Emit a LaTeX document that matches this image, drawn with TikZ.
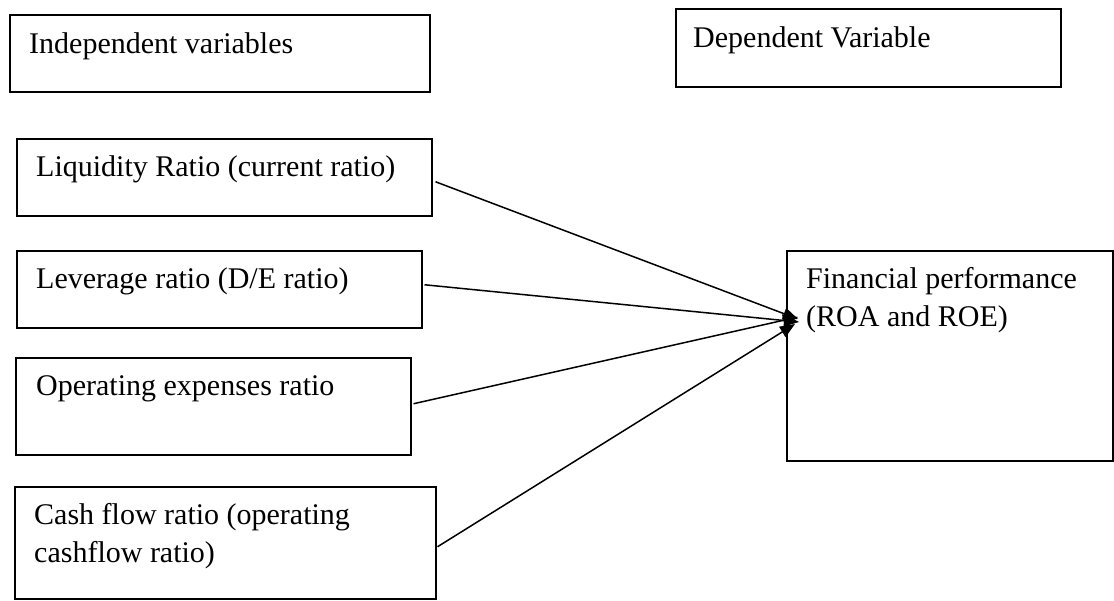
\documentclass[tikz,border=0pt]{standalone}
\usepackage{fontspec}
\setmainfont{Liberation Serif}
\usetikzlibrary{arrows.meta}
\begin{document}
\begin{tikzpicture}[x=1pt,y=-1pt,
  box/.style={draw, line width=1.5pt, rectangle, inner sep=0pt, anchor=north west},
  lbl/.style={anchor=base west, inner sep=0pt, font=\fontsize{30}{38.5}\selectfont, align=left},
  conn/.style={line width=1.5pt, -{Triangle[length=15pt,width=12pt]}}]
\useasboundingbox (0,0) rectangle (1114,600);
% boxes
\node[box, minimum width=420pt, minimum height=77pt] (indep) at (9,14) {};
\node[box, minimum width=385pt, minimum height=78pt] (dep) at (675,8) {};
\node[box, minimum width=415pt, minimum height=77pt] (liq) at (16,138) {};
\node[box, minimum width=405pt, minimum height=77pt] (lev) at (16,250) {};
\node[box, minimum width=395pt, minimum height=97pt] (ope) at (15,357) {};
\node[box, minimum width=421pt, minimum height=112pt] (cash) at (14,486) {};
\node[box, minimum width=326pt, minimum height=210pt] (fin) at (786,250) {};
% labels
\node[lbl] (tindep) at (29,53) {Independent variables};
\node[lbl] (tdep) at (693,47) {Dependent Variable};
\node[lbl] (tliq) at (36,176) {Liquidity Ratio (current ratio)};
\node[lbl] (tlev) at (36,288) {Leverage ratio (D/E ratio)};
\node[lbl] (tope) at (36,395) {Operating expenses ratio};
\node[lbl] (tcash) at (34,562.5) {Cash flow ratio (operating\\cashflow ratio)};
\node[lbl] (tfin) at (806,326.5) {Financial performance\\(ROA and ROE)};
% arrow tips
\coordinate (e1) at (798,319);
\coordinate (e2) at (799,322);
\coordinate (e3) at (798,317);
\coordinate (e4) at (795,324);
\draw[conn] ([shift={(3,4.5)}]liq.east) -- (e1);
\draw[conn] ([shift={(2,-4.5)}]lev.east) -- (e2);
\draw[conn] ([shift={(2,-2.5)}]ope.east) -- (e3);
\draw[conn] ([shift={(1,4)}]cash.east) -- (e4);
\end{tikzpicture}
\end{document}
